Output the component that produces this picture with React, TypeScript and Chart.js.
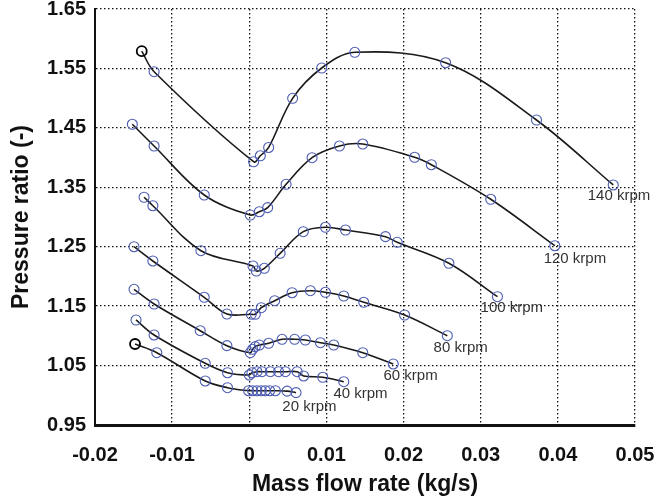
import React, { useEffect, useRef } from "react";
import { Chart, registerables } from "chart.js";

Chart.register(...registerables);

// Mass flow rate (kg/s) and pressure ratio (-) for each speed line
const flow140 = [-0.01394, -0.01234, 0.00056, 0.00143, 0.00251, 0.00562, 0.00939, 0.01368, 0.02545, 0.03723, 0.04718];
const pr140 = [1.579, 1.5445, 1.393, 1.403, 1.417, 1.4997, 1.5507, 1.5771, 1.5596, 1.4632, 1.3539];

const flow120 = [-0.01516, -0.01234, -0.00584, 0.00013, 0.0013, 0.00238, 0.00477, 0.00814, 0.01169, 0.01471, 0.02143, 0.0236, 0.0313, 0.03961];
const pr120 = [1.456, 1.4195, 1.337, 1.3034, 1.3089, 1.3157, 1.355, 1.3998, 1.4195, 1.4228, 1.4005, 1.388, 1.3298, 1.2517];

const flow100 = [-0.01364, -0.0125, -0.00627, 0.00048, 0.00091, 0.00195, 0.004, 0.007, 0.00987, 0.01247, 0.01766, 0.01918, 0.02588, 0.03217];
const pr100 = [1.3332, 1.319, 1.2433, 1.2176, 1.2091, 1.2137, 1.2389, 1.2753, 1.2827, 1.2781, 1.2669, 1.2574, 1.2221, 1.1659];

const flow80 = [-0.01494, -0.0125, -0.00584, -0.0029, 0.00026, 0.00078, 0.00156, 0.00329, 0.00555, 0.00792, 0.00987, 0.01225, 0.01484, 0.02013, 0.02567];
const pr80 = [1.25, 1.226, 1.1649, 1.1368, 1.1363, 1.1363, 1.1474, 1.1592, 1.1726, 1.176, 1.1733, 1.1671, 1.1565, 1.1351, 1.1003];

const flow60 = [-0.01494, -0.01234, -0.00636, -0.0029, 0.00013, 0.00043, 0.00078, 0.0013, 0.00251, 0.00425, 0.00588, 0.00727, 0.00922, 0.01095, 0.01471, 0.01866];
const pr60 = [1.1783, 1.1536, 1.1087, 1.0835, 1.0717, 1.0774, 1.0818, 1.0846, 1.0875, 1.0942, 1.0942, 1.093, 1.0885, 1.0846, 1.0717, 1.0527];

const flow40 = [-0.01468, -0.01234, -0.00571, -0.00282, 0.0, 0.00035, 0.001, 0.00165, 0.00273, 0.0038, 0.00468, 0.0062, 0.00705, 0.00952, 0.01225];
const pr40 = [1.1267, 1.1015, 1.0538, 1.038, 1.0342, 1.038, 1.0397, 1.0397, 1.0397, 1.0397, 1.0397, 1.0397, 1.0325, 1.0303, 1.0229];

const flow20 = [-0.01481, -0.01199, -0.00571, -0.00282, -0.00009, 0.00043, 0.001, 0.00156, 0.00208, 0.00264, 0.00338, 0.0049, 0.00606];
const pr20 = [1.0863, 1.0717, 1.0241, 1.0128, 1.0077, 1.0077, 1.0077, 1.0077, 1.0077, 1.0077, 1.0077, 1.007, 1.0044];

const speedLabels = ["140 krpm", "120 krpm", "100 krpm", "80 krpm", "60 krpm", "40 krpm", "20 krpm"];
const labelFlow = [0.04792, 0.04221, 0.03403, 0.0274, 0.02091, 0.01442, 0.00779];
const labelPr = [1.3353, 1.2293, 1.1469, 1.0796, 1.0325, 1.0022, 0.9803];

const xTicks = [-0.02, -0.01, 0, 0.01, 0.02, 0.03, 0.04, 0.05];
const yTicks = [0.95, 1.05, 1.15, 1.25, 1.35, 1.45, 1.55, 1.65];

const FONT = '"Liberation Sans", Arial, Helvetica, sans-serif';
const BLUE = "#4d5cb2";

const series = [
  { xs: flow140, ys: pr140, firstBlack: true },
  { xs: flow120, ys: pr120, firstBlack: false },
  { xs: flow100, ys: pr100, firstBlack: false },
  { xs: flow80, ys: pr80, firstBlack: false },
  { xs: flow60, ys: pr60, firstBlack: false },
  { xs: flow40, ys: pr40, firstBlack: false },
  { xs: flow20, ys: pr20, firstBlack: true },
];

const labelPlugin = {
  id: "speedLabels",
  afterDatasetsDraw(chart: any) {
    const { ctx, scales } = chart;
    ctx.save();
    ctx.font = `15px ${FONT}`;
    ctx.fillStyle = "#333";
    ctx.textAlign = "center";
    ctx.textBaseline = "middle";
    speedLabels.forEach((t, i) => {
      ctx.fillText(t, scales.x.getPixelForValue(labelFlow[i]), scales.y.getPixelForValue(labelPr[i]));
    });
    ctx.restore();
  },
};

export default function App() {
  const ref = useRef<HTMLCanvasElement | null>(null);
  useEffect(() => {
    document.body.style.margin = "0";
    if (!ref.current) return;
    const datasets = series.map((s, si) => ({
      label: speedLabels[si],
      data: s.xs.map((x, i) => ({ x, y: s.ys[i] })),
      borderColor: "#1a1a1a",
      borderWidth: 1.6,
      tension: 0.35,
      pointRadius: 5,
      pointBorderWidth: s.xs.map((_, i) => (s.firstBlack && i === 0 ? 1.8 : 1.1)),
      pointBorderColor: s.xs.map((_, i) => (s.firstBlack && i === 0 ? "#000" : BLUE)),
      pointBackgroundColor: "rgba(0,0,0,0)",
      fill: false,
    }));
    const chart = new Chart(ref.current, {
      type: "line",
      data: { datasets },
      plugins: [labelPlugin],
      options: {
        animation: false,
        responsive: false,
        layout: { padding: { top: 9, right: 21, left: 0, bottom: 0 } },
        plugins: { legend: { display: false }, tooltip: { enabled: false } },
        scales: {
          x: {
            type: "linear",
            min: -0.02,
            max: 0.05,
            afterBuildTicks: (scale: any) => {
              scale.ticks = xTicks.map((value) => ({ value }));
            },
            afterFit: (scale: any) => {
              scale.height = 74;
              scale.paddingLeft = 0;
              scale.paddingRight = 0;
            },
            grid: { color: "#111", lineWidth: 1.3, drawTicks: false },
            border: { display: true, color: "#111", width: 3, dash: [1.5, 2.5] },
            ticks: {
              padding: 18,
              color: "#111",
              font: { family: FONT, size: 20, weight: "bold" },
              callback: (v: any) => String(Number(Number(v).toFixed(2))),
            },
            title: {
              display: true,
              text: "Mass flow rate (kg/s)",
              color: "#111",
              font: { family: FONT, size: 23, weight: "bold" },
              padding: { top: 0, bottom: 1 },
            },
          },
          y: {
            type: "linear",
            min: 0.95,
            max: 1.65,
            afterBuildTicks: (scale: any) => {
              scale.ticks = yTicks.map((value) => ({ value }));
            },
            afterFit: (scale: any) => {
              scale.width = 95;
              scale.paddingTop = 0;
              scale.paddingBottom = 0;
            },
            grid: { color: "#111", lineWidth: 1.3, drawTicks: false },
            border: { display: true, color: "#111", width: 2, dash: [1.5, 2.5] },
            ticks: {
              padding: 9,
              color: "#111",
              font: { family: FONT, size: 20, weight: "bold" },
              callback: (v: any) => Number(v).toFixed(2),
            },
            title: {
              display: true,
              text: "Pressure ratio (-)",
              color: "#111",
              font: { family: FONT, size: 23, weight: "bold" },
              padding: { top: 8, bottom: 0 },
            },
          },
        },
      },
    });
    return () => chart.destroy();
  }, []);
  return (
    <div style={{ width: 656, height: 499 }}>
      <canvas ref={ref} width={656} height={499} />
    </div>
  );
}
